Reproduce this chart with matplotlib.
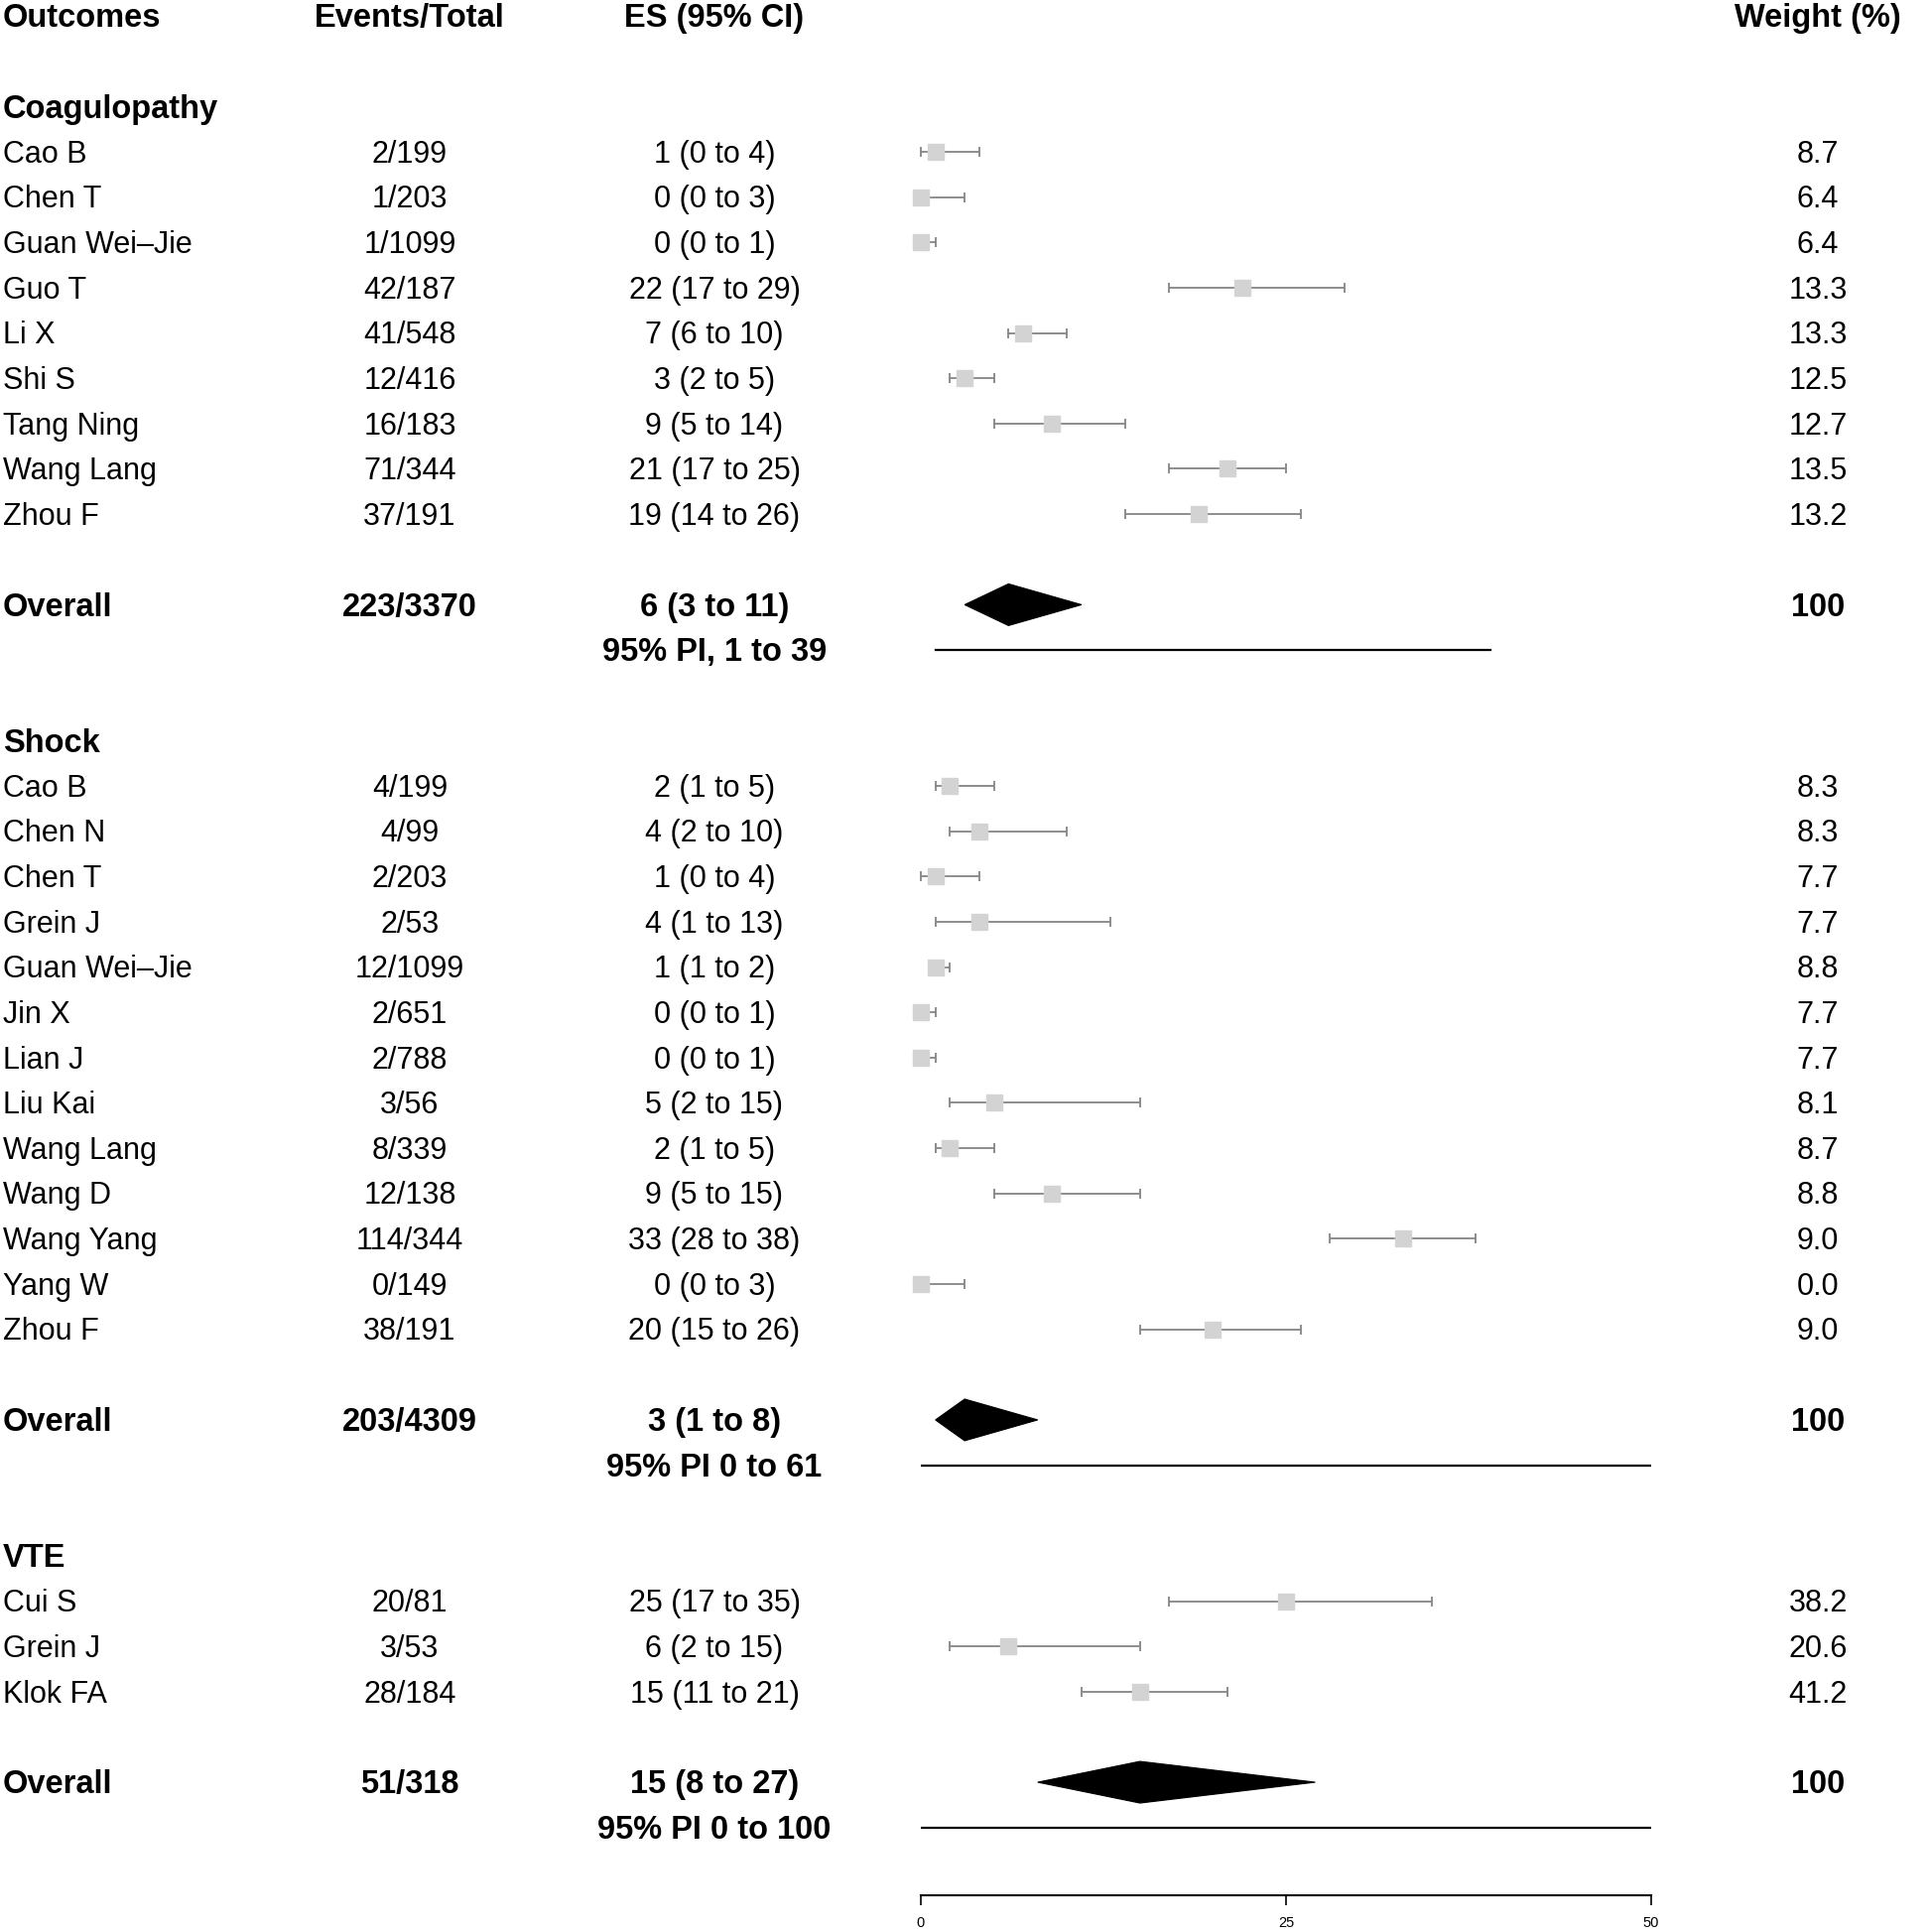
import matplotlib.pyplot as plt
from matplotlib.patches import Polygon
from matplotlib.transforms import blended_transform_factory

plt.rcParams['font.family'] = ['Liberation Sans', 'DejaVu Sans']

# data
group_names = ["Coagulopathy", "Shock", "VTE"]

coag_studies = ["Cao B", "Chen T", "Guan Wei\u2013Jie", "Guo T", "Li X", "Shi S", "Tang Ning", "Wang Lang", "Zhou F"]
coag_events = ["2/199", "1/203", "1/1099", "42/187", "41/548", "12/416", "16/183", "71/344", "37/191"]
coag_es = [1, 0, 0, 22, 7, 3, 9, 21, 19]
coag_lo = [0, 0, 0, 17, 6, 2, 5, 17, 14]
coag_hi = [4, 3, 1, 29, 10, 5, 14, 25, 26]
coag_weight = ["8.7", "6.4", "6.4", "13.3", "13.3", "12.5", "12.7", "13.5", "13.2"]

shock_studies = ["Cao B", "Chen N", "Chen T", "Grein J", "Guan Wei\u2013Jie", "Jin X", "Lian J", "Liu Kai",
                 "Wang Lang", "Wang D", "Wang Yang", "Yang W", "Zhou F"]
shock_events = ["4/199", "4/99", "2/203", "2/53", "12/1099", "2/651", "2/788", "3/56", "8/339", "12/138",
                "114/344", "0/149", "38/191"]
shock_es = [2, 4, 1, 4, 1, 0, 0, 5, 2, 9, 33, 0, 20]
shock_lo = [1, 2, 0, 1, 1, 0, 0, 2, 1, 5, 28, 0, 15]
shock_hi = [5, 10, 4, 13, 2, 1, 1, 15, 5, 15, 38, 3, 26]
shock_weight = ["8.3", "8.3", "7.7", "7.7", "8.8", "7.7", "7.7", "8.1", "8.7", "8.8", "9.0", "0.0", "9.0"]

vte_studies = ["Cui S", "Grein J", "Klok FA"]
vte_events = ["20/81", "3/53", "28/184"]
vte_es = [25, 6, 15]
vte_lo = [17, 2, 11]
vte_hi = [35, 15, 21]
vte_weight = ["38.2", "20.6", "41.2"]

overall_events = ["223/3370", "203/4309", "51/318"]
overall_es = [6, 3, 15]
overall_lo = [3, 1, 8]
overall_hi = [11, 8, 27]
pi_lo = [1, 0, 0]
pi_hi = [39, 61, 100]
overall_text = ["6 (3 to 11)", "3 (1 to 8)", "15 (8 to 27)"]
pi_text = ["95% PI, 1 to 39", "95% PI 0 to 61", "95% PI 0 to 100"]

groups = [
    (coag_studies, coag_events, coag_es, coag_lo, coag_hi, coag_weight),
    (shock_studies, shock_events, shock_es, shock_lo, shock_hi, shock_weight),
    (vte_studies, vte_events, vte_es, vte_lo, vte_hi, vte_weight),
]

# layout
W, H = 1946, 1947
fig = plt.figure(figsize=(W / 100, H / 100), dpi=100)
row_px = 45.64
top_px = 16.1
ax_left, ax_right = 928 / W, 1664 / W
ax = fig.add_axes([ax_left, 0, ax_right - ax_left, 1])
ax.set_xlim(0, 50)
ax.set_ylim((H - top_px) / row_px, -top_px / row_px)
ax.patch.set_alpha(0)

tr = blended_transform_factory(fig.transFigure, ax.transData)
x_name, x_events, x_es, x_weight = 3 / W, 413 / W, 720 / W, 1832 / W
fs, fsb = 22, 23.5
text_dy = 0.06
sq_color = "#d3d3d3"
ci_color = "#858585"


def txt(x, y, s, ha="center", bold=False):
    ax.text(x, y + text_dy, s, transform=tr, ha=ha, va="center",
            fontsize=fsb if bold else fs, fontweight="bold" if bold else "normal")


# header
txt(x_name, 0, "Outcomes", ha="left", bold=True)
txt(x_events, 0, "Events/Total", bold=True)
txt(x_es, 0, "ES (95% CI)", bold=True)
txt(x_weight, 0, "Weight (%)", bold=True)

r = 2
for g, (studies, events, es, lo, hi, weight) in enumerate(groups):
    txt(x_name, r, group_names[g], ha="left", bold=True)
    for i in range(len(studies)):
        y = r + 1 + i
        txt(x_name, y, studies[i], ha="left")
        txt(x_events, y, events[i])
        txt(x_es, y, "%d (%d to %d)" % (es[i], lo[i], hi[i]))
        txt(x_weight, y, weight[i])
        ax.errorbar(es[i], y, xerr=[[es[i] - lo[i]], [hi[i] - es[i]]], fmt="none",
                    ecolor=ci_color, elinewidth=1.3, capsize=3.6, capthick=1.3, clip_on=False, zorder=2)
        ax.plot(es[i], y, marker="s", markersize=11, color=sq_color, linestyle="none",
                clip_on=False, zorder=3)
    yo = r + len(studies) + 2
    txt(x_name, yo, "Overall", ha="left", bold=True)
    txt(x_events, yo, overall_events[g], bold=True)
    txt(x_es, yo, overall_text[g], bold=True)
    txt(x_weight, yo, "100", bold=True)
    txt(x_es, yo + 1, pi_text[g], bold=True)
    h = 0.46
    ax.add_patch(Polygon([(overall_lo[g], yo), (overall_es[g], yo - h), (overall_hi[g], yo),
                          (overall_es[g], yo + h)], closed=True, facecolor="black",
                         edgecolor="black", lw=0.8, clip_on=False))
    ax.plot([pi_lo[g], pi_hi[g]], [yo + 1, yo + 1], color="black", lw=1.6, clip_on=True)
    r = yo + 3

# axis
for s in ["top", "left", "right"]:
    ax.spines[s].set_visible(False)
ax.spines["bottom"].set_position(("data", 41.5))
ax.spines["bottom"].set_bounds(0, 50)
ax.spines["bottom"].set_linewidth(1.5)
ax.set_yticks([])
ax.set_xticks([0, 25, 50])
ax.tick_params(axis="x", length=7, width=1.2, labelsize=10.5, pad=8)

plt.savefig("out.png", dpi=100)
